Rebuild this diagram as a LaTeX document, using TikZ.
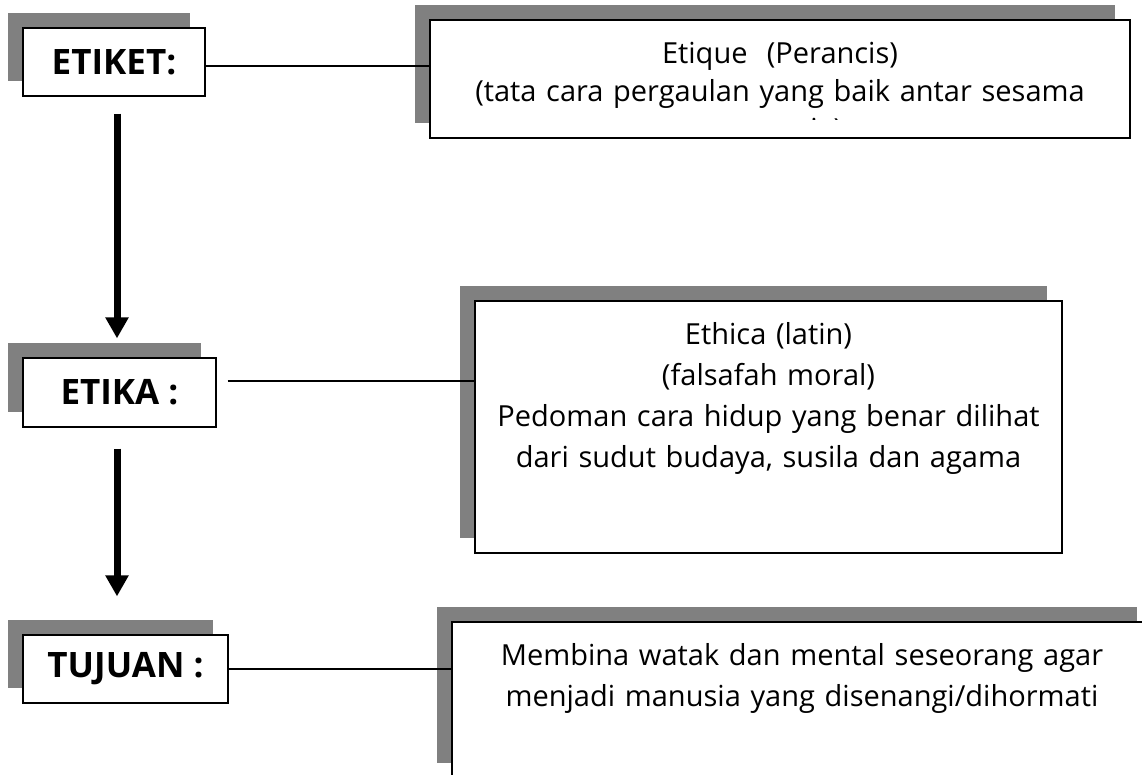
\documentclass[tikz,border=0pt]{standalone}
\usepackage{fontspec}
\setmainfont{Open Sans}
\usetikzlibrary{arrows.meta,shadows}
\definecolor{shadowgrey}{RGB}{128,128,128}
\tikzset{
  box/.style={draw, fill=white, line width=1.2pt, inner sep=0pt,
    general shadow={fill=shadowgrey, shadow xshift=-15pt, shadow yshift=15pt}},
  termbox/.style={box, font=\fontsize{35}{40}\selectfont\bfseries},
  notetext/.style={anchor=base, align=center, inner sep=0pt, text width=640pt,
    font=\fontsize{29}{41}\selectfont},
  link/.style={line width=1.2pt},
  flow/.style={line width=7pt, -{Triangle[width=22pt,length=21pt]}}
}
\begin{document}
\begin{tikzpicture}[x=1pt,y=-1pt]
\useasboundingbox (0,0) rectangle (1142,774);

% left column
\node[termbox, minimum width=182pt, minimum height=68pt] (etiket) at (114,62) {ETIKET:};
\node[termbox, minimum width=193pt, minimum height=69pt] (etika) at (119.5,392.5) {ETIKA :};
\node[termbox, minimum width=205pt, minimum height=68pt] (tujuan) at (125.5,669) {TUJUAN :};

% right column
\node[box, minimum width=700pt, minimum height=118pt] (etiketR) at (780,79) {};
\begin{scope}
\clip (etiketR.north west) rectangle ([yshift=19pt]etiketR.south east);
\node[notetext, font=\fontsize{29}{38}\selectfont] (etiketT) at ([yshift=-44pt]etiketR.north)
  {Etique\ \ (Perancis)\\(tata cara pergaulan yang baik antar sesama\\manusia)};
\end{scope}

\node[box, minimum width=587pt, minimum height=252pt] (etikaR) at (768.5,427) {};
\node[notetext] (etikaT) at ([yshift=-44pt]etikaR.north)
  {Ethica (latin)\\(falsafah moral)\\Pedoman cara hidup yang benar dilihat\\dari sudut budaya, susila dan agama};

\node[box, line width=2pt, minimum width=700pt, minimum height=156pt] (tujuanR) at (802,700) {};
\node[notetext] (tujuanT) at ([yshift=-44pt]tujuanR.north)
  {Membina watak dan mental seseorang agar\\menjadi manusia yang disenangi/dihormati};

% connectors
\draw[link] ([yshift=-4pt]etiket.east) coordinate (c1) -- (c1 -| etiketR.west);
\draw[link] ([shift={(11pt,11.5pt)}]etika.east) coordinate (c2) -- (c2 -| etikaR.west);
\draw[link] (tujuan.east) -- (tujuan.east -| tujuanR.west);

% arrows
\draw[flow] ([shift={(3pt,-17pt)}]etiket.south) -- ([shift={(-2.5pt,19pt)}]etika.north);
\draw[flow] ([shift={(-2.5pt,-21pt)}]etika.south) -- ([shift={(-8.5pt,38pt)}]tujuan.north);
\end{tikzpicture}
\end{document}
